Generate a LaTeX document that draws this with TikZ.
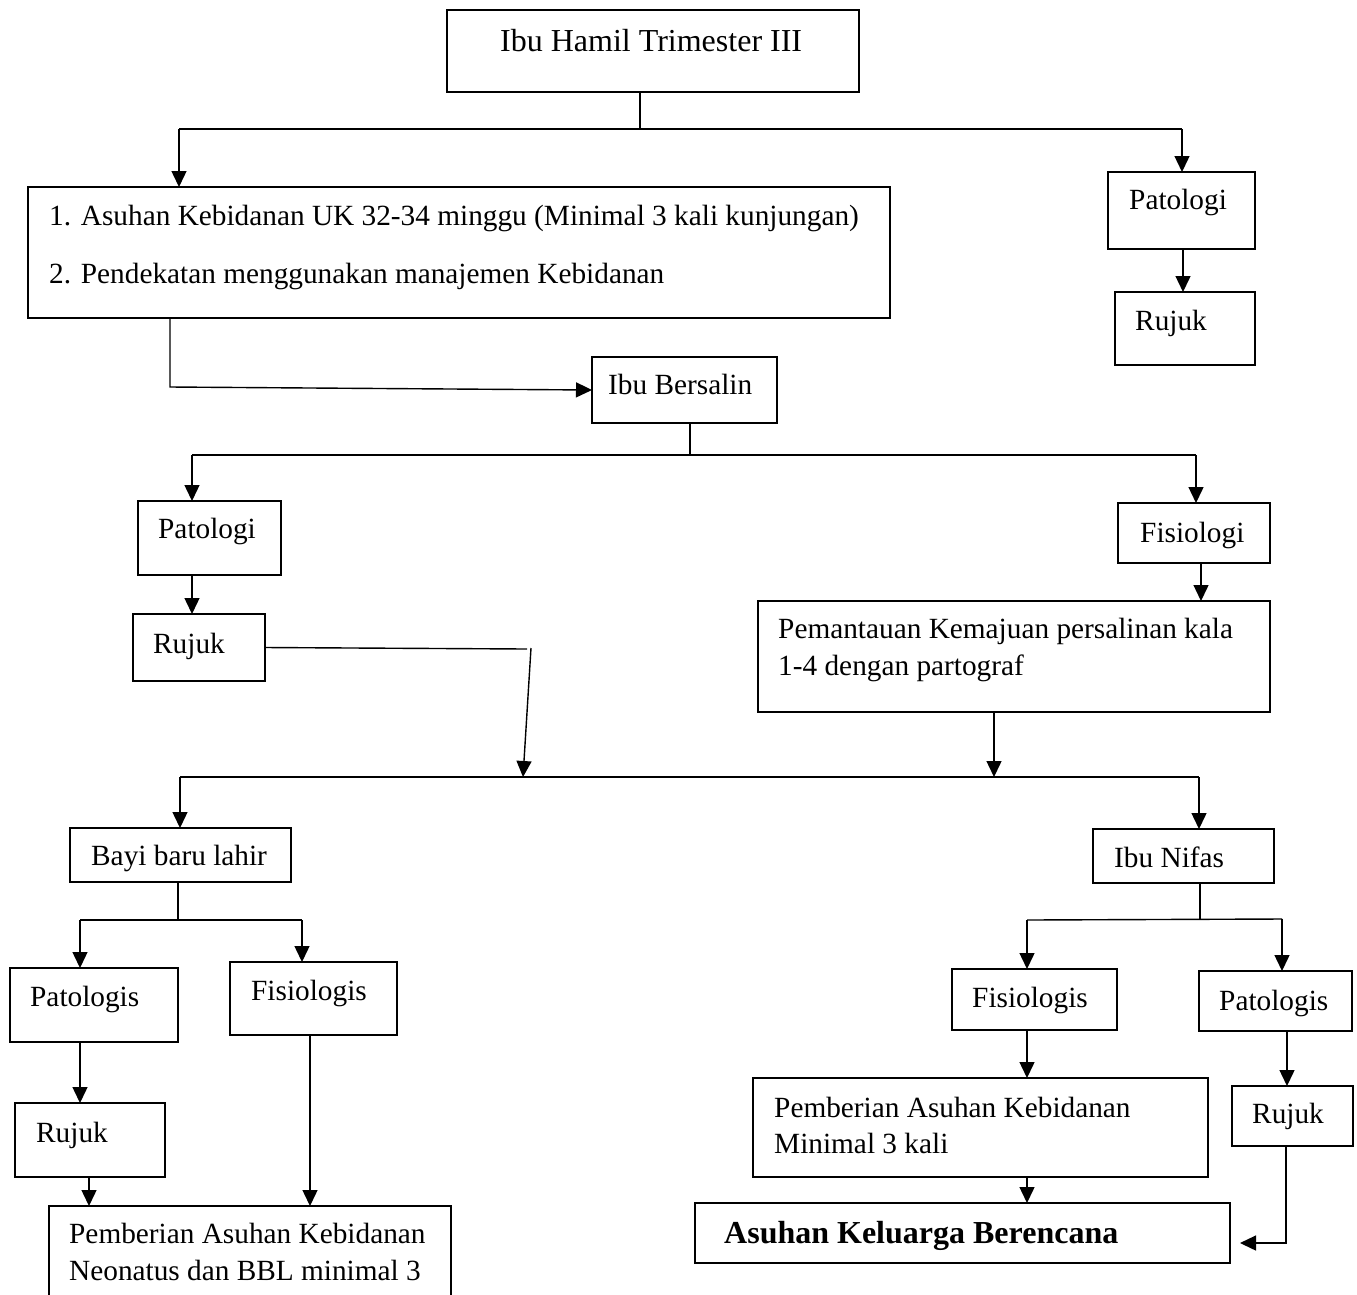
\documentclass[tikz,border=0pt]{standalone}
\usepackage{fontspec}
\setmainfont{Liberation Serif}
\usetikzlibrary{arrows.meta,fit}
\begin{document}
\begin{tikzpicture}[x=1pt,y=-1pt,
  box/.style={draw=black,line width=1.4pt,inner sep=0pt,outer sep=0pt},
  txt/.style={inner sep=0pt,anchor=base west,font=\fontsize{29.3}{35}\selectfont},
  bigtxt/.style={inner sep=0pt,anchor=base west,font=\fontsize{32}{38}\selectfont},
  ln/.style={line width=1.4pt},
  arr/.style={line width=1.4pt,-{Triangle[length=16pt,width=15pt]}}]
\useasboundingbox (0,0) rectangle (1357,1294);
\clip (0,0) rectangle (1357,1294);
\fill[white] (0,0) rectangle (1357,1294);
% boxes
\node[box,fit={(447,10) (859,92)}] (top) {};
\node[box,fit={(28,187) (890,318)}] (asuhan) {};
\node[box,fit={(1108,172) (1255,249)}] (patA) {};
\node[box,fit={(1115,292) (1255,365)}] (rujA) {};
\node[box,fit={(592,357) (777,423)}] (bersalin) {};
\node[box,fit={(138,501) (281,575)}] (patB) {};
\node[box,fit={(133,614) (265,681)}] (rujB) {};
\node[box,fit={(1118,503) (1270,563)}] (fisB) {};
\node[box,fit={(758,601) (1270,712)}] (pantau) {};
\node[box,fit={(70,828) (291,882)}] (bayi) {};
\node[box,fit={(1093,829) (1274,883)}] (nifas) {};
\node[box,fit={(10,968) (178,1042)}] (patC) {};
\node[box,fit={(230,962) (397,1035)}] (fisC) {};
\node[box,fit={(15,1103) (165,1177)}] (rujC) {};
\node[box,fit={(49,1206) (451,1320)}] (pemC) {};
\node[box,fit={(952,969) (1117,1030)}] (fisD) {};
\node[box,fit={(1199,971) (1352,1031)}] (patD) {};
\node[box,fit={(753,1078) (1208,1177)}] (pemD) {};
\node[box,fit={(1232,1086) (1353,1146)}] (rujD) {};
\node[box,fit={(695,1203) (1230,1263)}] (kb) {};
% texts
\node[bigtxt] (tTop) at (500,51) {Ibu Hamil Trimester III};
\node[txt] (tAs1) at (49,225) {1. Asuhan Kebidanan UK 32-34 minggu (Minimal 3 kali kunjungan)};
\node[txt] (tAs2) at (49,283) {2. Pendekatan menggunakan manajemen Kebidanan};
\node[txt] (tPatA) at (1129,209) {Patologi};
\node[txt] (tRujA) at (1135,330) {Rujuk};
\node[txt] (tBers) at (608,394) {Ibu Bersalin};
\node[txt] (tPatB) at (158,538) {Patologi};
\node[txt] (tRujB) at (153,653) {Rujuk};
\node[txt] (tFisB) at (1140,542) {Fisiologi};
\node[txt] (tPan1) at (778,638) {Pemantauan Kemajuan persalinan kala};
\node[txt] (tPan2) at (778,675) {1-4 dengan partograf};
\node[txt] (tBayi) at (91,865) {Bayi baru lahir};
\node[txt] (tNifas) at (1114,867) {Ibu Nifas};
\node[txt] (tPatC) at (30,1006) {Patologis};
\node[txt] (tFisC) at (251,1000) {Fisiologis};
\node[txt] (tRujC) at (36,1142) {Rujuk};
\node[txt] (tPemC1) at (69,1243) {Pemberian Asuhan Kebidanan};
\node[txt] (tPemC2) at (69,1280) {Neonatus dan BBL minimal 3};
\node[txt] (tFisD) at (972,1007) {Fisiologis};
\node[txt] (tPatD) at (1219,1010) {Patologis};
\node[txt] (tPemD1) at (774,1117) {Pemberian Asuhan Kebidanan};
\node[txt] (tPemD2) at (774,1153) {Minimal 3 kali};
\node[txt] (tRujD) at (1252,1123) {Rujuk};
\node[bigtxt,font=\fontsize{32}{38}\selectfont\bfseries] (tKB) at (724,1243) {Asuhan Keluarga Berencana};
% junction coordinates
\coordinate (j1) at (640,129);
\coordinate (j1L) at (179,129);
\coordinate (j1R) at (1182,129);
\coordinate (j2) at (170,387);
\coordinate (j3) at (690,455);
\coordinate (j3L) at (192,455);
\coordinate (j3R) at (1196,455);
\coordinate (j4a) at (527,649);
\coordinate (j4b) at (531,648);
\coordinate (j5) at (523,777);
\coordinate (j5p) at (994,777);
\coordinate (j5L) at (180,777);
\coordinate (j5R) at (1199,777);
\coordinate (j6) at (178,920);
\coordinate (j6L) at (80,920);
\coordinate (j6R) at (302,920);
\coordinate (j7) at (1200,919);
\coordinate (j7L) at (1027,920);
\coordinate (j7R) at (1282,919);
\coordinate (j8) at (1286,1243);
\coordinate (j8e) at (1240,1243);
% connectors
\draw[ln] (top.south -| j1) -- (j1);
\draw[ln] (j1L) -- (j1R);
\draw[arr] (j1L) -- (asuhan.north -| j1L);
\draw[arr] (j1R) -- (patA.north -| j1R);
\draw[arr] (patA.south -| 1183,0) -- (rujA.north -| 1183,0);
\draw[arr] (asuhan.south -| j2) -- (j2) -- (bersalin.west);
\draw[ln] (bersalin.south -| j3) -- (j3);
\draw[ln] (j3L) -- (j3R);
\draw[arr] (j3L) -- (patB.north -| j3L);
\draw[arr] (j3R) -- (fisB.north -| j3R);
\draw[arr] (patB.south -| j3L) -- (rujB.north -| j3L);
\draw[ln] (rujB.east) -- (j4a);
\draw[arr] (j4b) -- (j5);
\draw[arr] (fisB.south -| 1201,0) -- (pantau.north -| 1201,0);
\draw[arr] (pantau.south -| j5p) -- (j5p);
\draw[ln] (j5L) -- (j5R);
\draw[arr] (j5L) -- (bayi.north -| j5L);
\draw[arr] (j5R) -- (nifas.north -| j5R);
\draw[ln] (bayi.south -| j6) -- (j6);
\draw[ln] (j6L) -- (j6R);
\draw[arr] (j6L) -- (patC.north -| j6L);
\draw[arr] (j6R) -- (fisC.north -| j6R);
\draw[arr] (patC.south -| j6L) -- (rujC.north -| j6L);
\draw[arr] (rujC.south -| 89,0) -- (pemC.north -| 89,0);
\draw[arr] (fisC.south -| 310,0) -- (pemC.north -| 310,0);
\draw[ln] (nifas.south -| j7) -- (j7);
\draw[ln] (j7L) -- (j7R);
\draw[arr] (j7L) -- (fisD.north -| j7L);
\draw[arr] (j7R) -- (patD.north -| j7R);
\draw[arr] (fisD.south -| j7L) -- (pemD.north -| j7L);
\draw[arr] (patD.south -| 1287,0) -- (rujD.north -| 1287,0);
\draw[arr] (pemD.south -| j7L) -- (kb.north -| j7L);
\draw[arr] (rujD.south -| j8) -- (j8) -- (j8e);
\end{tikzpicture}
\end{document}
